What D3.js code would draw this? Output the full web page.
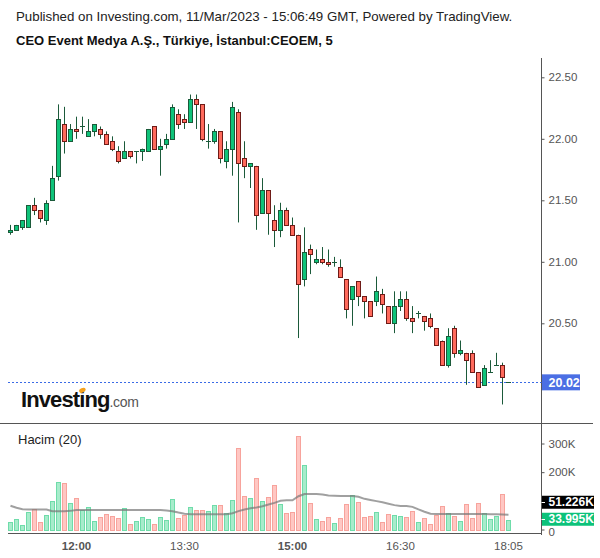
<!DOCTYPE html>
<html>
<head>
<meta charset="utf-8">
<script src="https://cdn.jsdelivr.net/npm/d3@7"></script>
<style>
  body { margin: 0; background: #fff; }
  svg { display: block; font-family: "Liberation Sans", Arial, sans-serif; }
</style>
</head>
<body>
<svg id="chart" width="600" height="558"></svg>
<script>
// 5 dakikalik mumlar, 11:05 - 18:05 (18:00 mumu yok)
const times = [
  "11:05","11:10","11:15","11:20","11:25","11:30","11:35","11:40","11:45","11:50","11:55",
  "12:00","12:05","12:10","12:15","12:20","12:25","12:30","12:35","12:40","12:45","12:50","12:55",
  "13:00","13:05","13:10","13:15","13:20","13:25","13:30","13:35","13:40","13:45","13:50","13:55",
  "14:00","14:05","14:10","14:15","14:20","14:25","14:30","14:35","14:40","14:45","14:50","14:55",
  "15:00","15:05","15:10","15:15","15:20","15:25","15:30","15:35","15:40","15:45","15:50","15:55",
  "16:00","16:05","16:10","16:15","16:20","16:25","16:30","16:35","16:40","16:45","16:50","16:55",
  "17:00","17:05","17:10","17:15","17:20","17:25","17:30","17:35","17:40","17:45","17:50","17:55",
  "18:05"
]

const open = [
  21.24,21.26,21.28,21.28,21.46,21.42,21.34,21.50,21.70,22.12,
  21.98,22.08,22.10,22.02,22.06,22.08,22.04,21.98,21.90,21.84,
  21.90,21.90,21.90,21.90,22.10,21.92,21.96,22.00,22.20,22.16,
  22.14,22.32,22.28,21.98,21.98,22.06,21.82,21.92,22.22,21.84,
  21.78,21.78,21.40,21.58,21.34,21.26,21.42,21.30,21.22,20.86,
  21.10,21.00,21.02,21.00,21.00,20.96,20.86,20.70,20.84,20.72,
  20.68,20.68,20.74,20.64,20.50,20.64,20.70,20.54,20.58,20.56,
  20.54,20.46,20.36,20.16,20.46,20.26,20.26,20.26,20.10,20.00,
  20.10,20.16,20.16,20.02
]
const high = [
  21.30,21.30,21.34,21.46,21.52,21.42,21.50,21.78,22.28,22.26,
  22.12,22.18,22.18,22.16,22.12,22.10,22.06,22.02,21.94,21.98,
  21.90,21.90,21.92,22.08,22.10,22.00,22.04,22.28,22.24,22.20,
  22.36,22.36,22.28,22.12,22.08,22.06,21.98,22.30,22.24,21.98,
  21.80,21.78,21.68,21.58,21.46,21.48,21.44,21.36,21.22,21.28,
  21.14,21.10,21.12,21.10,21.04,21.02,20.86,20.80,20.84,20.72,
  20.68,20.88,20.78,20.64,20.76,20.76,20.76,20.64,20.60,20.56,
  20.58,20.46,20.36,20.46,20.48,20.36,20.26,20.28,20.10,20.16,
  20.20,20.26,20.18,20.02
]
const low = [
  21.22,21.26,21.26,21.28,21.38,21.32,21.30,21.50,21.66,21.88,
  21.98,22.00,22.04,22.02,22.02,22.00,21.96,21.90,21.80,21.84,
  21.84,21.80,21.82,21.90,21.92,21.70,21.92,22.00,22.08,22.08,
  22.14,22.08,21.98,21.92,21.96,21.80,21.76,21.70,21.32,21.68,
  21.60,21.26,21.40,21.22,21.12,21.20,21.30,21.22,20.38,20.80,
  20.90,20.98,20.98,20.96,20.96,20.88,20.54,20.48,20.64,20.54,
  20.56,20.64,20.58,20.50,20.42,20.60,20.52,20.42,20.54,20.44,
  20.46,20.32,20.16,20.14,20.22,20.24,20.00,20.10,19.98,20.00,
  20.10,20.16,19.84,20.02
]
const close = [
  21.26,21.30,21.34,21.46,21.42,21.36,21.48,21.68,22.16,21.98,
  22.08,22.06,22.10,22.06,22.12,22.04,21.96,21.92,21.82,21.90,
  21.86,21.90,21.92,22.08,21.92,21.94,22.00,22.26,22.12,22.14,
  22.32,22.28,22.00,21.98,22.06,21.84,21.92,22.26,21.80,21.78,
  21.80,21.38,21.58,21.40,21.26,21.42,21.30,21.22,20.82,21.08,
  21.06,21.02,21.00,20.98,21.00,20.88,20.62,20.80,20.72,20.68,
  20.56,20.76,20.66,20.50,20.64,20.70,20.54,20.52,20.58,20.52,
  20.48,20.32,20.16,20.40,20.26,20.28,20.20,20.10,19.98,20.14,
  20.10,20.16,20.06,20.02
]
// hacim, bin adet (K)
const volume = [
  24.6,35,14,59.6,70,24.6,49,98,165,161,
  91,109,67,77,28,42,53,46,39,74,
  17.5,28,42,35,17.5,42,31.6,105,39,49,
  77,67,67,63,84,84,56,102,284,116,
  109,179,98,112,154,88,56,60,326,224.6,
  91,35,28,42,21,39,88,119,95,42,
  46,60,24.6,53,49,46,42,63,24.6,39,
  17.5,49,81,56,46,28,88,39,91,56,
  35,46,123,33.995
]
// Hacim (20) ortalama cizgisi
const volumeMA = [
  83,76,71,70,70,70,70,64,64,64,
  65,68,68,68,68,68,68,68,68,68,
  68,68,68,68,68,68,66,64,59,55,
  53,53,53,53,53,53,53,57,64,70,
  74,77,81,87,93,100,102,102,116,124,
  124,124,122,119,118,117,117,117,114,107,
  103,99,95,90,85,82,82,79,70,62,
  55,54,54,54,54,54,54,54,54,54,
  53,53,52,51.226
]
const lastPrice = 20.02
const priceTicks = [20.5, 21.0, 21.5, 22.0, 22.5]
const volumeTicks = [0, 200, 300]   // 100K etiketi kutunun altinda kaliyor
const timeTicks = ["12:00", "13:30", "15:00", "16:30", "18:05"]
const boldTimes = ["12:00", "15:00"]

const candles = times.map((t, i) => ({
  t, o: open[i], h: high[i], l: low[i], c: close[i], v: volume[i], ma: volumeMA[i]
}))

const svg = d3.select("#chart")

const axisX = 541.5
const x = d3.scaleBand()
  .domain(times)
  .range([7.5, 7.5 + times.length * 6])
  .paddingInner(0.16)
  .paddingOuter(0.08)
const cx = t => x(t) + x.bandwidth() / 2 - 0.02
const yP = d3.scaleLinear().domain([20.5, 22.5]).range([323.3, 77.3])
const yV = d3.scaleLinear().domain([0, 300]).range([529.5, 443.5])
const snap = v => Math.round(v) + 0.5

// basliklar
svg.append("text").attr("x", 16).attr("y", 21)
  .attr("font-size", 13.3).attr("fill", "#222")
  .text("Published on Investing.com, 11/Mar/2023 - 15:06:49 GMT, Powered by TradingView.")
svg.append("text").attr("x", 16).attr("y", 45)
  .attr("font-size", 13).attr("font-weight", "bold").attr("fill", "#111")
  .text("CEO Event Medya A.Ş., Türkiye, İstanbul:CEOEM, 5")

// cerceve cizgileri
svg.append("line").attr("x1", 0).attr("x2", 593).attr("y1", 423.5).attr("y2", 423.5)
  .attr("stroke", "#555")
svg.append("line").attr("x1", 8).attr("x2", axisX).attr("y1", 533.5).attr("y2", 533.5)
  .attr("stroke", "#555")
svg.append("line").attr("x1", axisX).attr("x2", axisX).attr("y1", 58).attr("y2", 535)
  .attr("stroke", "#555")

// son fiyat cizgisi
svg.append("line")
  .attr("x1", 8).attr("x2", axisX)
  .attr("y1", snap(yP(lastPrice))).attr("y2", snap(yP(lastPrice)))
  .attr("stroke", "#3b6be6").attr("stroke-dasharray", "2,2")

// logo
const logo = svg.append("text").attr("x", 21).attr("y", 407)
logo.append("tspan").attr("font-size", 22).attr("font-weight", "bold")
  .attr("letter-spacing", -0.9).attr("fill", "#111").text("Investing")
logo.append("tspan").attr("font-size", 14).attr("letter-spacing", -0.3)
  .attr("fill", "#555").text(".com")
const iPos = logo.node().getStartPositionOfChar(6)
svg.append("ellipse")
  .attr("cx", iPos.x + 3.2).attr("cy", 390.3).attr("rx", 3.4).attr("ry", 2.2)
  .attr("transform", `rotate(-25 ${iPos.x + 3.2} 390.3)`)
  .attr("fill", "#f5a11c")

// mumlar
const gC = svg.append("g")
gC.selectAll("line.wick").data(candles).join("line")
  .attr("class", "wick")
  .attr("x1", d => snap(cx(d.t) - 0.5)).attr("x2", d => snap(cx(d.t) - 0.5))
  .attr("y1", d => yP(d.h)).attr("y2", d => yP(d.l))
  .attr("stroke", "#1b5a3a").attr("stroke-width", 1)

gC.selectAll("rect.body").data(candles.filter(d => d.o !== d.c)).join("rect")
  .attr("class", "body")
  .attr("x", d => snap(cx(d.t) - 0.5) - 2)
  .attr("width", 4)
  .attr("y", d => snap(yP(Math.max(d.o, d.c))))
  .attr("height", d => Math.max(1, snap(yP(Math.min(d.o, d.c))) - snap(yP(Math.max(d.o, d.c)))))
  .attr("fill", d => d.c > d.o ? "#0fc37a" : "#ff6a5c")
  .attr("stroke", d => d.c > d.o ? "#1b5a3a" : "#6e1b17")
  .attr("stroke-width", 1)

gC.selectAll("line.doji").data(candles.filter(d => d.o === d.c)).join("line")
  .attr("class", "doji")
  .attr("x1", d => snap(cx(d.t) - 0.5) - 2.5).attr("x2", d => snap(cx(d.t) - 0.5) + 2.5)
  .attr("y1", d => snap(yP(d.c))).attr("y2", d => snap(yP(d.c)))
  .attr("stroke", "#1b5a3a").attr("stroke-width", 1)

// hacim
const gV = svg.append("g")
gV.selectAll("rect").data(candles).join("rect")
  .attr("x", d => snap(cx(d.t) - 0.5) - 2)
  .attr("width", 4)
  .attr("y", d => snap(yV(d.v)))
  .attr("height", d => snap(yV(0)) - snap(yV(d.v)))
  .attr("fill", d => d.c >= d.o ? "#a7eccb" : "#ffc7c3")
  .attr("stroke", d => d.c >= d.o ? "#6fdcaa" : "#f7a39c")

gV.append("path").datum(candles)
  .attr("d", d3.line().x(d => cx(d.t)).y(d => yV(d.ma)))
  .attr("fill", "none")
  .attr("stroke", "rgba(120,120,120,0.7)")
  .attr("stroke-width", 2)

svg.append("text").attr("x", 18).attr("y", 444)
  .attr("font-size", 13).attr("fill", "#222").text("Hacim (20)")

// eksenler
const styleAxis = g => {
  g.select(".domain").remove()
  g.selectAll(".tick line").attr("stroke", "#555")
  g.selectAll(".tick text").attr("fill", "#555").attr("font-size", 11.5)
    .attr("font-family", "Liberation Sans, Arial, sans-serif")
}

svg.append("g").attr("transform", `translate(${axisX},0)`)
  .call(d3.axisRight(yP).tickValues(priceTicks).tickSize(3).tickPadding(4)
    .tickFormat(d3.format(".2f")))
  .call(styleAxis)

const volAxis = svg.append("g").attr("transform", `translate(${axisX},0)`)
  .call(d3.axisRight(yV).tickValues(volumeTicks).tickSize(3).tickPadding(4)
    .tickFormat(d => d === 0 ? "0" : d + "K"))
  .call(styleAxis)
volAxis.selectAll(".tick text").filter(d => d === 0).attr("dy", "0.55em")

svg.append("g").attr("transform", "translate(0,533.5)")
  .call(d3.axisBottom(x).tickValues(timeTicks).tickSize(0).tickPadding(8))
  .call(styleAxis)
  .selectAll(".tick text")
  .attr("font-weight", d => boldTimes.includes(d) ? "bold" : "normal")

// son deger etiketleri
const tag = (yc, w, fill, label) => {
  svg.append("rect").attr("x", axisX + 0.5).attr("y", yc - 6.5)
    .attr("width", w).attr("height", 13).attr("fill", fill)
  svg.append("line").attr("x1", axisX).attr("x2", axisX + 3.5)
    .attr("y1", snap(yc)).attr("y2", snap(yc)).attr("stroke", "#fff")
  svg.append("text").attr("x", axisX + 7).attr("y", yc).attr("dy", "0.35em")
    .attr("font-size", 12).attr("font-weight", "bold").attr("fill", "#fff").text(label)
}
const last = candles[candles.length - 1]
svg.append("rect").attr("x", axisX + 0.5).attr("y", yP(lastPrice) - 8)
  .attr("width", 38).attr("height", 16).attr("fill", "#4b6fe4")
svg.append("text").attr("x", axisX + 7).attr("y", yP(lastPrice)).attr("dy", "0.36em")
  .attr("font-size", 12.5).attr("font-weight", "bold").attr("fill", "#fff")
  .text(d3.format(".2f")(lastPrice))

const yGreen = yV(last.v) - 0.5
tag(yGreen, 52, "#0cc27a", d3.format(".3f")(last.v) + "K")
tag(Math.min(yV(last.ma), yGreen - 17), 52, "#000", d3.format(".3f")(last.ma) + "K")
</script>
</body>
</html>
